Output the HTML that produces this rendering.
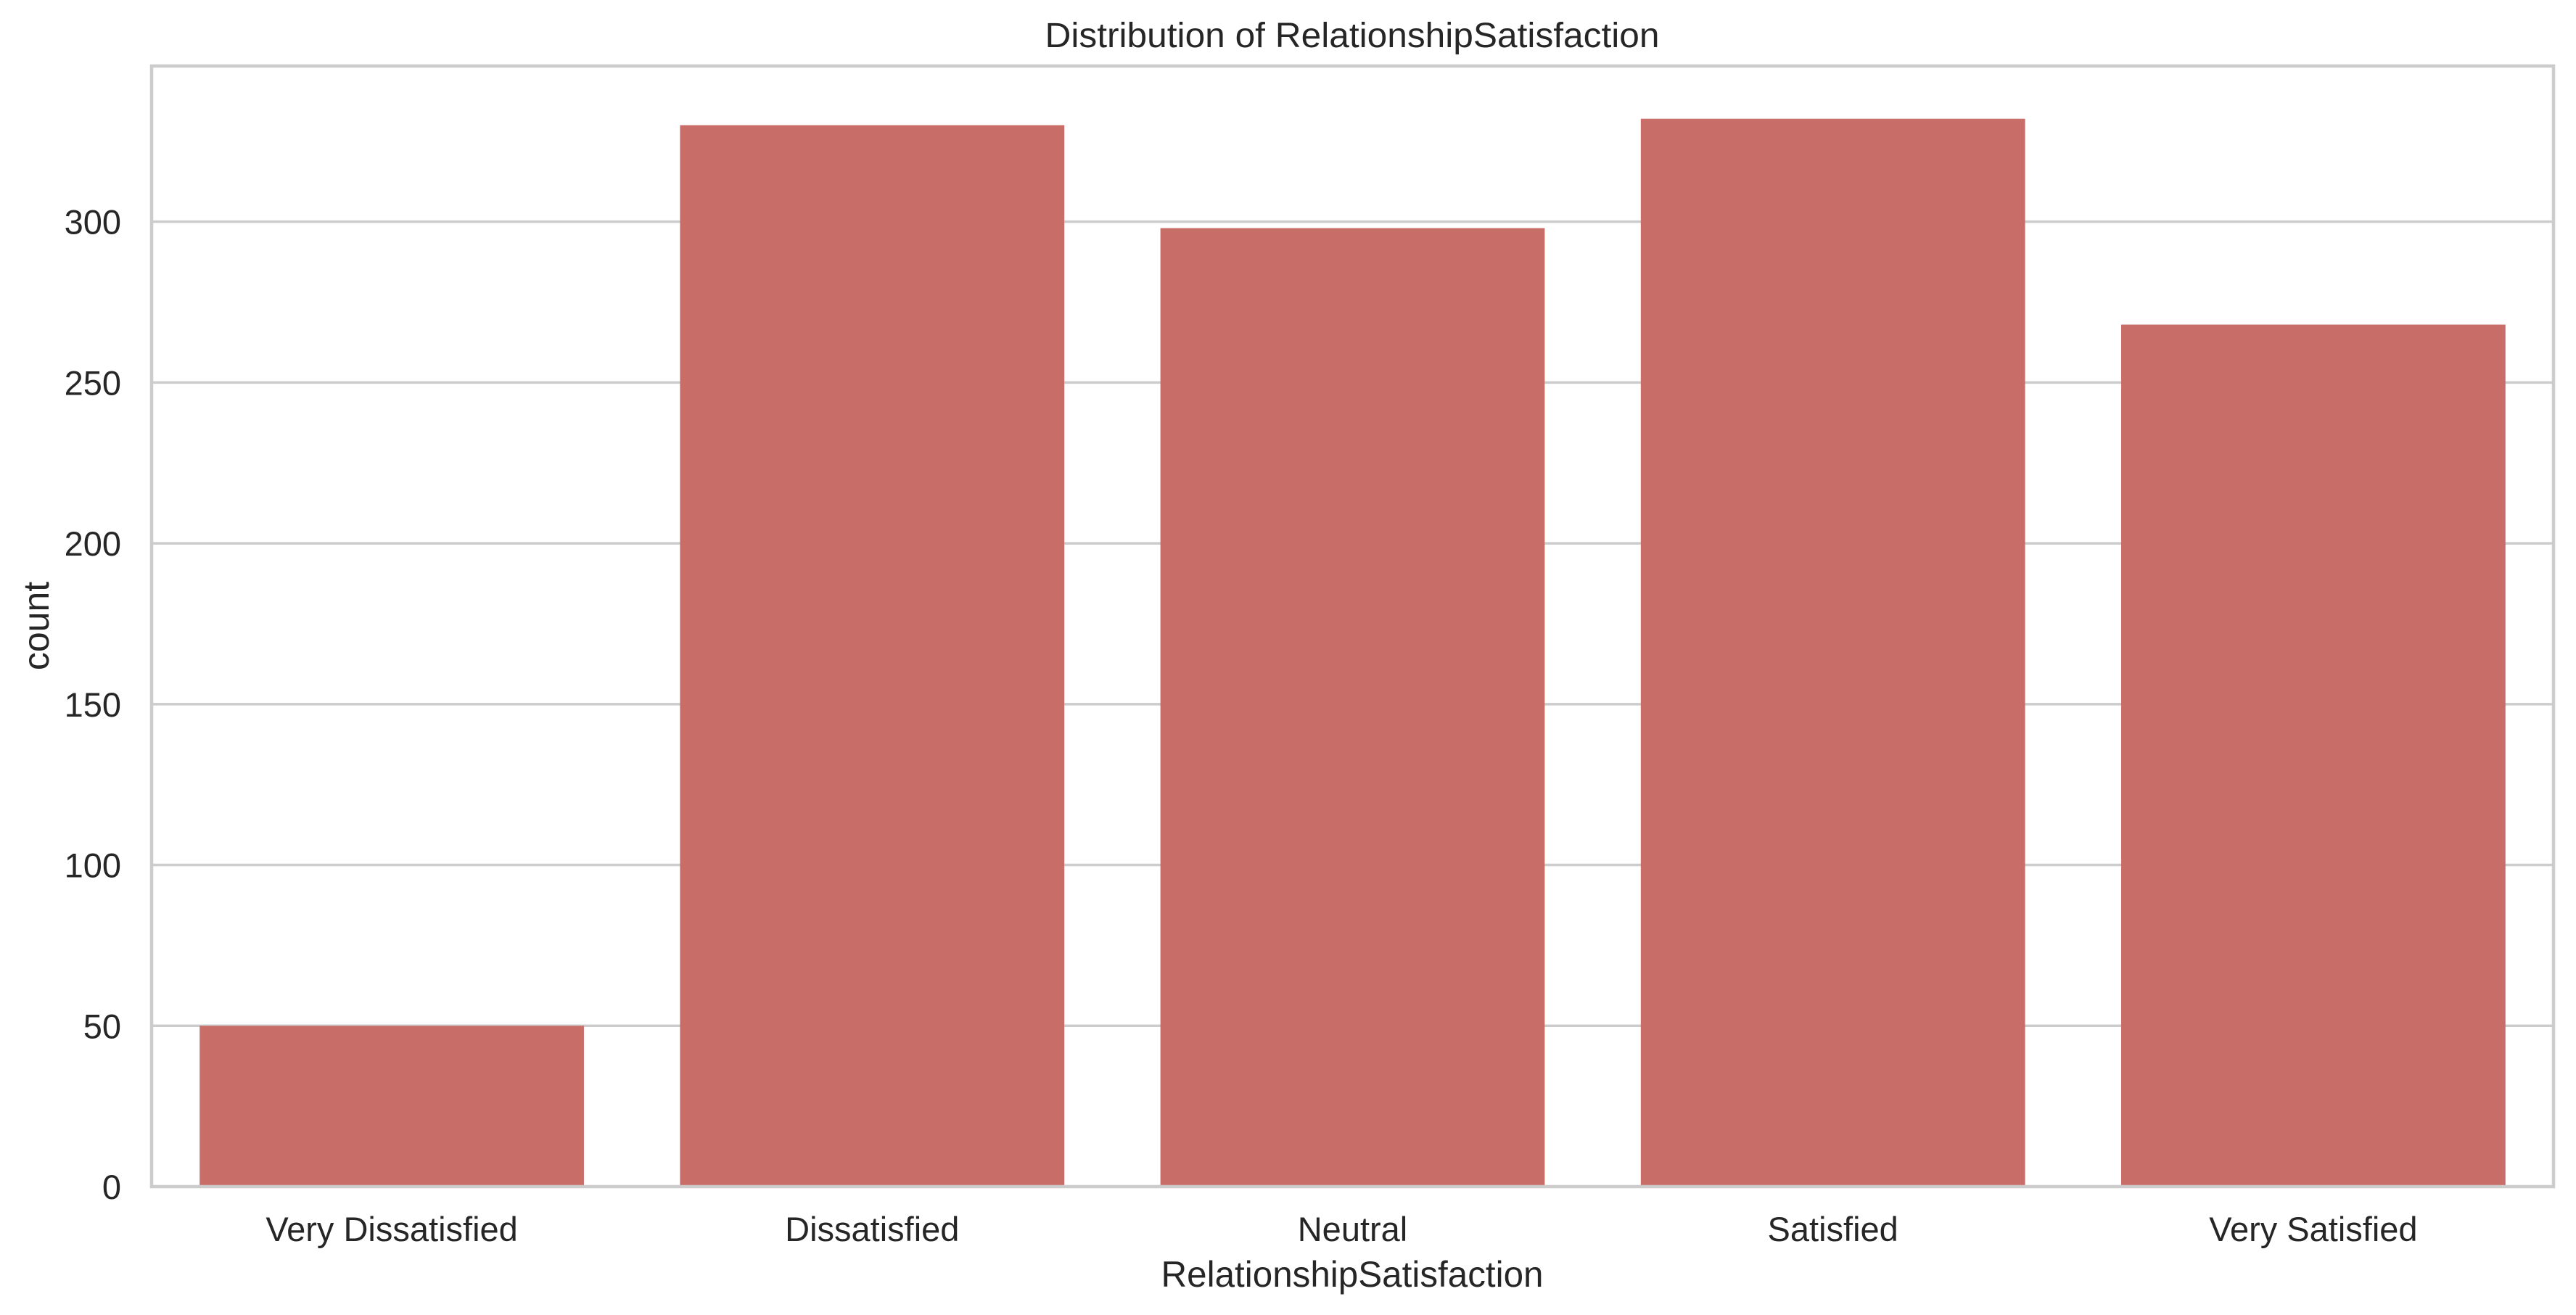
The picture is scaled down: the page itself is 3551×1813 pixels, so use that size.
<!DOCTYPE html>
<html><head><meta charset="utf-8"><style>
html,body{margin:0;padding:0;background:#fff;}
svg{display:block;font-family:"Liberation Sans",Arial,sans-serif;}
</style></head><body>
<svg id="chart" width="3551" height="1813" viewBox="0 0 3551 1813">
<rect x="0" y="0" width="3551" height="1813" fill="#ffffff"/>
<g id="grid"></g>
<g id="bars"></g>
<g id="yticks"></g>
<g id="xticks"></g>
<rect x="209" y="91" width="3311" height="1545" fill="none" stroke="#cccccc" stroke-width="4.5"/>
<text x="1864" y="65" font-size="48" fill="#262626" text-anchor="middle" textLength="847" lengthAdjust="spacingAndGlyphs">Distribution of RelationshipSatisfaction</text>
<text x="1864" y="1774" font-size="50" fill="#262626" text-anchor="middle" textLength="527" lengthAdjust="spacingAndGlyphs">RelationshipSatisfaction</text>
<text transform="translate(67,863) rotate(-90)" font-size="50" fill="#262626" text-anchor="middle">count</text>
</svg>
<script>
const categories = ["Very Dissatisfied", "Dissatisfied", "Neutral", "Satisfied", "Very Satisfied"];
const counts = [50, 330, 298, 332, 268];
const yTicks = [0, 50, 100, 150, 200, 250, 300];

const NS = "http://www.w3.org/2000/svg";
const plotL = 209, plotR = 3520, plotT = 91, plotB = 1636;
const yMax = 348.4;
function yScale(v){ return plotB - v / yMax * (plotB - plotT); }
const band = (plotR - plotL) / categories.length;
function xCenter(i){ return plotL + band * (i + 0.5); }
const barW = band * 0.8;

const grid = document.getElementById('grid');
const yt = document.getElementById('yticks');
yTicks.forEach(t => {
  const y = yScale(t);
  const ln = document.createElementNS(NS, 'line');
  ln.setAttribute('x1', plotL); ln.setAttribute('x2', plotR);
  ln.setAttribute('y1', y); ln.setAttribute('y2', y);
  ln.setAttribute('stroke', '#cccccc'); ln.setAttribute('stroke-width', '3.5');
  
  
  grid.appendChild(ln);
  const tx = document.createElementNS(NS, 'text');
  tx.setAttribute('x', 167); tx.setAttribute('y', y + 17);
  tx.setAttribute('font-size', '47'); tx.setAttribute('fill', '#262626');
  tx.setAttribute('text-anchor', 'end');
  tx.textContent = t;
  
  
  yt.appendChild(tx);
});

const bars = document.getElementById('bars');
const xt = document.getElementById('xticks');
categories.forEach((c, i) => {
  const r = document.createElementNS(NS, 'rect');
  const y = yScale(counts[i]);
  r.setAttribute('x', xCenter(i) - barW / 2); r.setAttribute('width', barW);
  r.setAttribute('y', y); r.setAttribute('height', plotB - y);
  r.setAttribute('fill', '#c86d67');
  
  
  bars.appendChild(r);
  const tx = document.createElementNS(NS, 'text');
  tx.setAttribute('x', xCenter(i)); tx.setAttribute('y', 1711);
  tx.setAttribute('font-size', '47'); tx.setAttribute('fill', '#262626');
  tx.setAttribute('text-anchor', 'middle');
  tx.textContent = c;
  
  
  xt.appendChild(tx);
});
</script>
</body></html>
